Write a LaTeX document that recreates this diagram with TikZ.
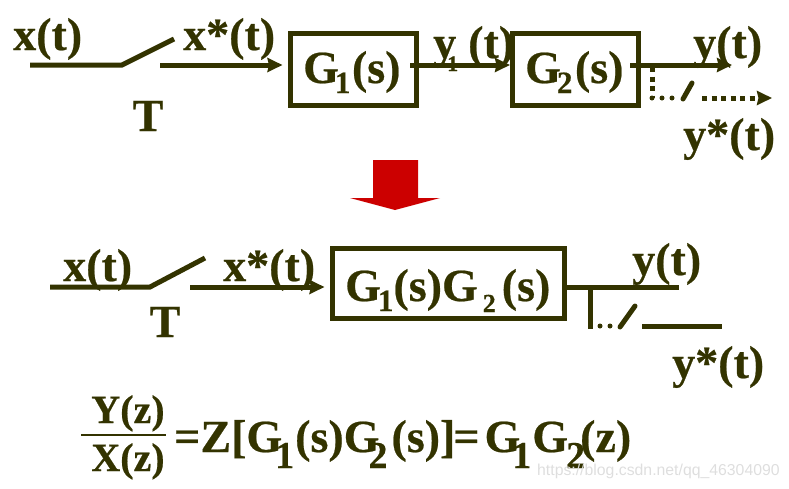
\documentclass[tikz,border=0pt]{standalone}
\usepackage{fontspec}
\usetikzlibrary{arrows.meta}
\setmainfont{Liberation Serif}[BoldFeatures={FakeBold=0.5}]
\definecolor{olivedark}{HTML}{333300}
\definecolor{arrowred}{HTML}{CC0000}
\newcommand{\subnum}[2][-4pt]{\hspace*{#1}\raisebox{-10pt}{\fontsize{31}{31}\selectfont #2}}
\newcommand{\subsmall}[2][-4pt]{\hspace*{#1}\raisebox{-11pt}{\fontsize{26}{26}\selectfont #2}}
\newcommand{\subbig}[2][-4pt]{\hspace*{#1}\raisebox{-16pt}{\fontsize{38}{38}\selectfont #2}}
\tikzset{
	lab/.style={inner sep=0pt,text=olivedark,font=\fontsize{46}{46}\selectfont\bfseries},
	fraclab/.style={lab,font=\fontsize{40}{40}\selectfont\bfseries},
	blockbox/.style={draw=olivedark,line width=5pt,inner sep=0pt},
	wire/.style={draw=olivedark,line width=5pt},
	dotwire/.style={wire,dash pattern=on 5pt off 4.5pt},
	rounddots/.style={wire,line cap=round,dash pattern=on 0pt off 10pt}
}
\begin{document}
\begin{tikzpicture}[x=1pt,y=-1pt,>={Stealth[length=15pt,width=14pt,inset=1.5pt]}]
	\useasboundingbox (0,0) rectangle (789,488);
	% upper chain
	\node[blockbox,minimum width=126pt,minimum height=72pt] (boxa) at (353,69) {};
	\node[blockbox,minimum width=126pt,minimum height=72pt] (boxb) at (575.5,69) {};
	\coordinate (ina) at (30,65);
	\coordinate (swa) at (122,65);
	\coordinate (swatop) at (174,39);
	\coordinate (sampa) at (160,65);
	\coordinate (ya) at (410,65);
	\coordinate (yb) at (630,65);
	\coordinate (yend) at (732,65);
	\coordinate (tap) at (652,67);
	\coordinate (tapb) at (652,98);
	\coordinate (dotend) at (674,98);
	\coordinate (slb) at (683,99);
	\coordinate (slbtop) at (692,83);
	\coordinate (outb) at (702,98);
	\coordinate (outbend) at (772,98);
	\draw[wire] (ina)--(swa)--(swatop);
	\draw[wire,->,shorten >=5pt] (sampa)--(boxa.west|-sampa);
	\draw[wire,->] (ya)--(boxb.west|-ya);
	\draw[wire,->] (yb)--(yend);
	\draw[dotwire] (tap)--(tapb);
	\draw[rounddots] (tapb)--(dotend);
	\draw[wire,line cap=round] (slb)--(slbtop);
	\draw[dotwire,->] (outb)--(outbend);
	\node[lab,anchor=base west] (xa) at (13,50) {x(t)};
	\node[lab,anchor=base west] (xsa) at (183,50) {x*(t)};
	\node[lab,anchor=base] (ta) at (148,131) {T};
	\node[lab,anchor=base west] (ga) at (303,83) {G\subnum{1}\hspace{1.5pt}(s)};
	\node[lab,anchor=base west] (yaa) at (433,58) {y\hspace*{-9pt}\raisebox{-13pt}{\fontsize{22}{22}\selectfont 1}\hspace{10pt}(t)};
	\node[lab,anchor=base west] (gb) at (525,83) {G\subnum{2}\hspace{2.5pt}(s)};
	\node[lab,anchor=base west] (yt) at (693,58) {y(t)};
	\node[lab,anchor=base west] (yst) at (683,150) {y*(t)};
	% red arrow
	\fill[arrowred] (373,160)--(418,160)--(418,198)--(440,198)--(395,210)--(350,198)--(373,198)--cycle;
	% lower chain
	\node[blockbox,minimum width=232pt,minimum height=70pt] (boxc) at (448,283) {};
	\coordinate (inc) at (50,287);
	\coordinate (swc) at (150,287);
	\coordinate (swctop) at (205,258);
	\coordinate (sampc) at (190,287);
	\coordinate (yc) at (679,287);
	\coordinate (tapc) at (590,287);
	\coordinate (tapcb) at (590,329);
	\coordinate (dotc) at (600,326);
	\coordinate (dotcb) at (612,326);
	\coordinate (slc) at (620,327);
	\coordinate (slctop) at (635,306);
	\coordinate (outc) at (642,326);
	\coordinate (outcend) at (722,326);
	\draw[wire] (inc)--(swc)--(swctop);
	\draw[wire,->,shorten >=5pt] (sampc)--(boxc.west|-sampc);
	\draw[wire] (boxc.east|-yc)--(yc);
	\draw[wire] (tapc)--(tapcb);
	\draw[rounddots] (dotc)--(dotcb);
	\draw[wire,line cap=round] (slc)--(slctop);
	\draw[wire] (outc)--(outcend);
	\node[lab,anchor=base west] (xc) at (63,281) {x(t)};
	\node[lab,anchor=base west] (xsc) at (223,281) {x*(t)};
	\node[lab,anchor=base] (tc) at (165,337) {T};
	\node[lab,anchor=base west] (gc) at (345,301) {G\subnum[-3pt]{1}(s)G\subsmall[5pt]{2}\hspace{6pt}(s)};
	\node[lab,anchor=base west] (yct) at (632,275) {y(t)};
	\node[lab,anchor=base west] (ysc) at (672,378) {y*(t)};
	% ratio
	\node[fraclab,anchor=base] (num) at (128,423) {Y(z)};
	\node[fraclab,anchor=base] (den) at (128,471) {X(z)};
	\coordinate (bara) at (81,435);
	\coordinate (barb) at (166,435);
	\draw[olivedark,line width=2.5pt] (bara)--(barb);
	\node[lab,anchor=base west] (eq) at (174,452) {=Z[G\subbig[-7pt]{1}\hspace{1pt}(s)G\subbig[-11pt]{2}\hspace{4pt}(s)]\hspace{-2pt}=\hspace{5pt}G\subbig[-8pt]{1}\hspace{1pt}G\subbig[-2pt]{2}\hspace{-5pt}(z)};
	% site mark
	\node[inner sep=0pt,anchor=base west,text=black!13,font=\fontspec{Liberation Sans}\fontsize{15.8}{15.8}\selectfont] (mark) at (537,475) {https://blog.csdn.net/qq\_46304090};
\end{tikzpicture}
\end{document}
